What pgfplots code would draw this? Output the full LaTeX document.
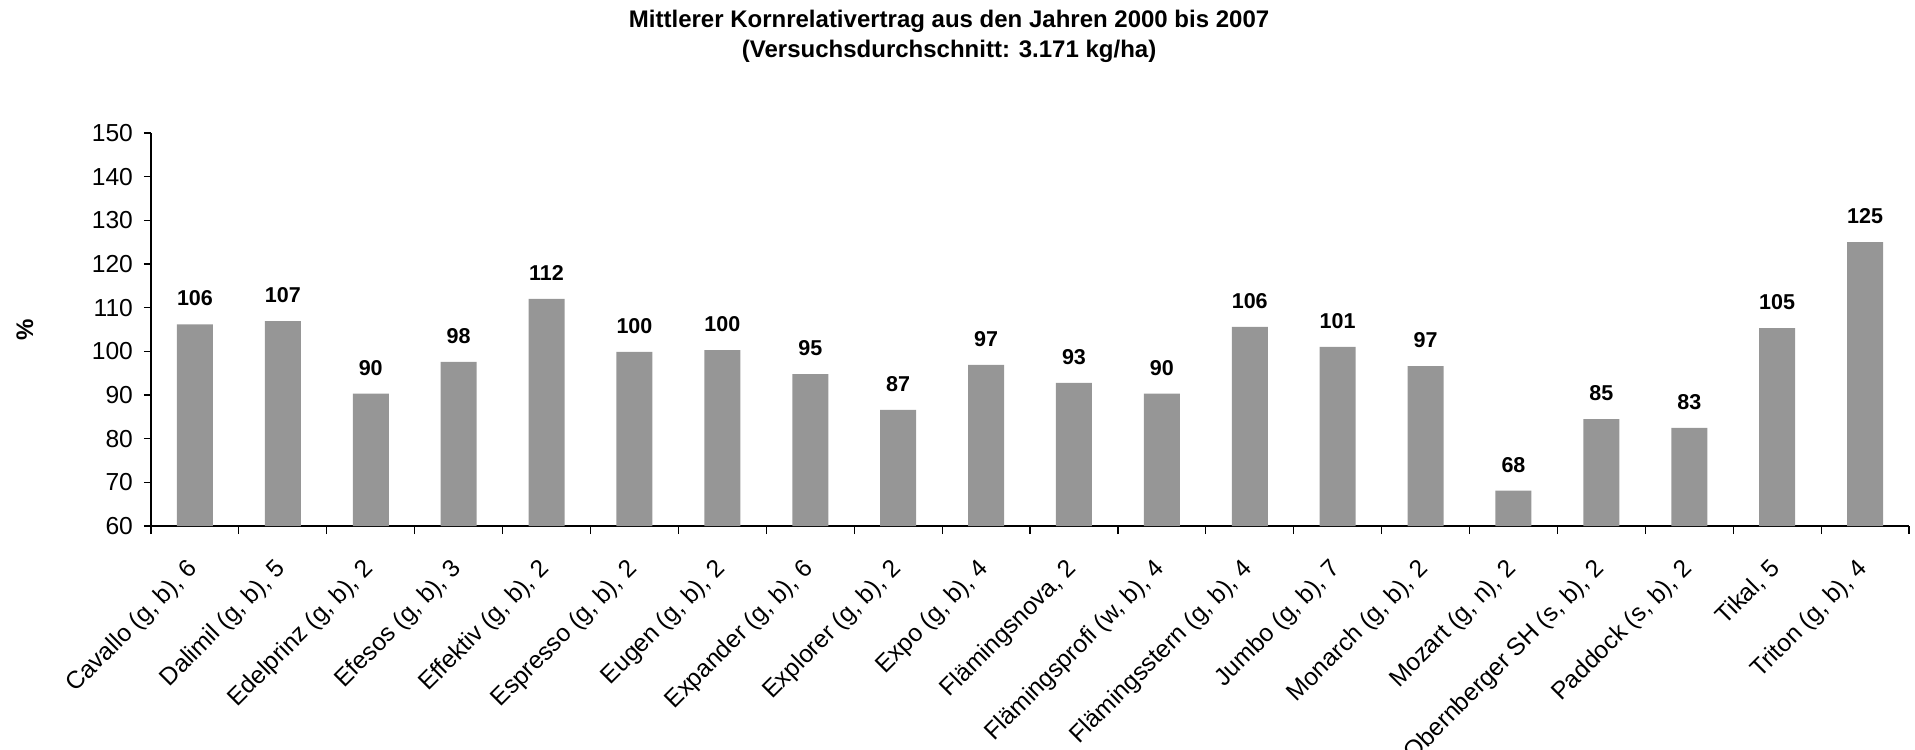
\documentclass[border=0pt]{standalone}
\usepackage{pgfplots}
\pgfplotsset{compat=1.18}
\usepackage{pgfplotstable}
\usepackage{fontspec}
\setmainfont{Liberation Sans}
\definecolor{barGray}{HTML}{969696}
\pgfplotstableread{
x y lab
0 106.2 106
1 106.9 107
2 90.3 90
3 97.6 98
4 112.0 112
5 99.9 100
6 100.3 100
7 94.8 95
8 86.6 87
9 96.9 97
10 92.8 93
11 90.3 90
12 105.6 106
13 101.0 101
14 96.6 97
15 68.1 68
16 84.5 85
17 82.5 83
18 105.3 105
19 125.0 125
}\datatable
\begin{document}
\begin{tikzpicture}
\begin{axis}[
  scale only axis,
  width=879pt, height=196.5pt,
  xmin=-0.5, xmax=19.5,
  ymin=60, ymax=150,
  ytick={60,70,...,150},
  xtick={0,...,19},
  xticklabels={{Cavallo (g, b), 6},{Dalimil (g, b), 5},{Edelprinz (g, b), 2},{Efesos (g, b), 3},{Effektiv (g, b), 2},{Espresso (g, b), 2},{Eugen (g, b), 2},{Expander (g, b), 6},{Explorer (g, b), 2},{Expo (g, b), 4},{Flämingsnova, 2},{Flämingsprofi (w, b), 4},{Flämingsstern (g, b), 4},{Jumbo (g, b), 7},{Monarch (g, b), 2},{Mozart (g, n), 2},{Obernberger SH (s, b), 2},{Paddock (s, b), 2},{Tikal, 5},{Triton (g, b), 4}},
  minor xtick={-0.5,0.5,...,19.5},
  major x tick style={draw=none},
  tick align=outside,
  major tick length=3.5pt,
  minor tick length=4pt,
  axis x line*=bottom,
  axis y line*=left,
  axis line style={black, line width=0.6pt},
  tick style={black, line width=0.6pt},
  /pgf/number format/assume math mode=true,
  ticklabel style={font=\fontsize{12.3}{14}\selectfont},
  xticklabel style={xshift=-4.5pt, yshift=-12pt, rotate=45, anchor=north east, inner sep=0pt},
  yticklabel style={xshift=-2pt},
  ylabel={\%},
  ylabel style={at={(axis description cs:-0.0717,0.5)}, anchor=center, font=\bfseries\fontsize{12}{14}\selectfont},
  title={Mittlerer Kornrelativertrag aus den Jahren 2000 bis 2007\\(Versuchsdurchschnitt: 3.171 kg/ha)},
  title style={at={(axis description cs:0.454,1.246)}, anchor=center, yshift=-6pt, align=center, font=\bfseries\fontsize{12}{15.3}\selectfont},
  ybar, bar width=18pt,
  nodes near coords,
  point meta=explicit symbolic,
  every node near coord/.append style={font=\bfseries\fontsize{10.75}{12}\selectfont, yshift=5.5pt},
  clip=false,
]
\addplot[draw=none, fill=barGray] table[x=x, y=y, meta=lab] {\datatable};
\end{axis}
\pgfresetboundingbox
\path[use as bounding box] (-75.5pt,-111.5pt) rectangle (882pt,263pt);
\end{tikzpicture}
\end{document}
